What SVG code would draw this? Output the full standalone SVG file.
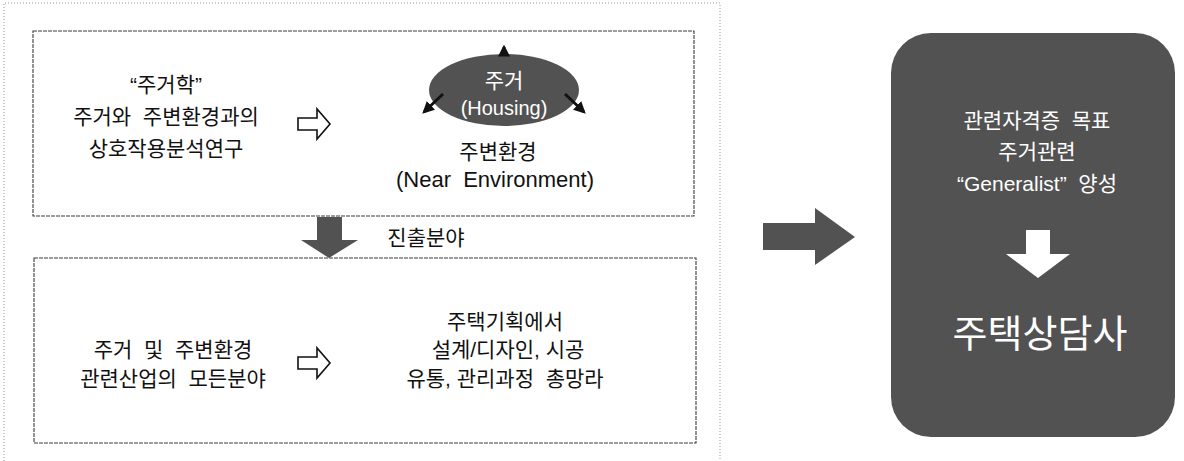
<svg xmlns="http://www.w3.org/2000/svg" width="1184" height="461" viewBox="0 0 1184 461">
<style>
.t{font-family:"Liberation Sans","Noto Sans CJK KR",sans-serif;font-size:21px;fill:#111;text-anchor:middle}
.w{fill:#fff}
.big{font-size:38px}
.lat{font-size:22px}
.hs{font-size:20px}
.box{fill:none;stroke:#3a3a3a;stroke-width:1.1;stroke-dasharray:4 1}
.outer{fill:none;stroke:#b8b8b8;stroke-width:1.5;stroke-dasharray:1 2}
.dark{fill:#525252}
.hollow{fill:#fff;stroke:#111;stroke-width:1.6;stroke-linejoin:miter}
</style>
<defs>
<marker id="ah" viewBox="0 0 10 10" refX="8" refY="5" markerWidth="4" markerHeight="4" orient="auto-start-reverse">
<path d="M0,0 L10,5 L0,10 z" fill="#111"/>
</marker>
</defs>
<rect width="1184" height="461" fill="#fff"/>
<g id="frame">
<path class="outer" d="M4,461 V3 H720 V461"/>
</g>
<g id="top-box">
<rect class="box" x="33" y="31" width="661" height="185"/>
<text class="t" x="166" y="92">“주거학”</text>
<text class="t" x="166" y="124" xml:space="preserve">주거와  주변환경과의</text>
<text class="t" x="166" y="156">상호작용분석연구</text>
</g>
<g id="housing">
<ellipse class="dark" cx="504" cy="90" rx="75" ry="36"/>
<text class="t w" x="504" y="88">주거</text>
<text class="t w hs" x="504" y="115">(Housing)</text>
<text class="t" x="498" y="159">주변환경</text>
<text class="t lat" x="495" y="187" xml:space="preserve">(Near  Environment)</text>
</g>
<g id="bottom-box">
<rect class="box" x="34" y="258" width="662" height="185"/>
<text class="t" x="173" y="357" xml:space="preserve">주거  및  주변환경</text>
<text class="t" x="173" y="386" xml:space="preserve">관련산업의  모든분야</text>
<text class="t" x="505" y="329">주택기획에서</text>
<text class="t" x="508" y="357">설계/디자인, 시공</text>
<text class="t" x="505" y="386" xml:space="preserve">유통, 관리과정  총망라</text>
</g>
<g id="label-jinchul">
<text class="t" x="426" y="245">진출분야</text>
</g>
<g id="goal-box">
<rect class="dark" x="891" y="33" width="284" height="404" rx="40" ry="40"/>
<text class="t w" x="1037" y="128" xml:space="preserve">관련자격증  목표</text>
<text class="t w" x="1037" y="159">주거관련</text>
<text class="t w" x="1037" y="191" xml:space="preserve">“Generalist”  양성</text>
<text class="t w big" x="1040" y="347">주택상담사</text>
</g>
<g id="connectors">
<path class="hollow" d="M298,118 H317 V109 L330,124 L317,139 V130 H298 Z"/>
<path class="hollow" d="M298,357 H317 V348 L330,363 L317,378 V369 H298 Z"/>
<path class="dark" d="M317,217 H342 V240 H358 L329,258 L301,240 H317 Z"/>
<path class="dark" d="M763,223 H815 V208 L855,237 L815,265 V250 H763 Z"/>
<path fill="#fff" d="M1026,230 H1050 V254 H1070 L1038,278 L1006,254 H1026 Z"/>
<line x1="504" y1="55" x2="504" y2="47" stroke="#111" stroke-width="3" marker-end="url(#ah)"/>
<line x1="443" y1="94" x2="424" y2="112" stroke="#111" stroke-width="3" marker-end="url(#ah)"/>
<line x1="565" y1="94" x2="584" y2="112" stroke="#111" stroke-width="3" marker-end="url(#ah)"/>
</g>
</svg>
